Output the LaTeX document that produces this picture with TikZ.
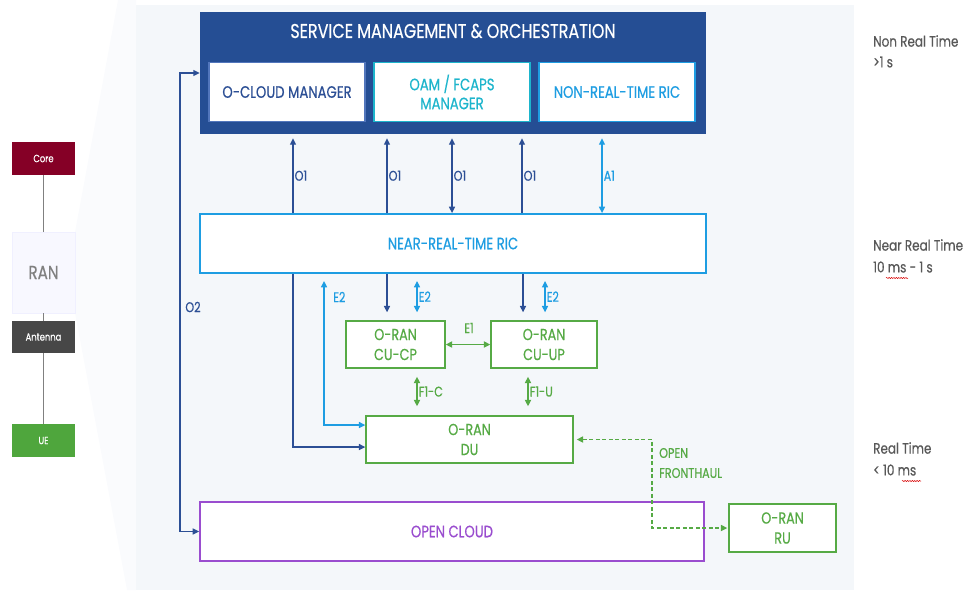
\documentclass[tikz,border=0pt]{standalone}
\usepackage{fontspec}
\setmainfont{Poppins}[FakeStretch=0.8,FakeBold=0.5]
\usetikzlibrary{arrows.meta,decorations.pathmorphing}

\definecolor{smoblue}{HTML}{254E94}
\definecolor{darkblue}{HTML}{2C4F95}
\definecolor{ocmblue}{HTML}{5276BC}
\definecolor{oamcyan}{HTML}{1DB5CC}
\definecolor{ricblue}{HTML}{1E9DE2}
\definecolor{orangreen}{HTML}{56AA45}
\definecolor{cloudpurple}{HTML}{9A4DCF}
\definecolor{panelbg}{HTML}{F4F7FA}
\definecolor{corered}{HTML}{850026}
\definecolor{antgray}{HTML}{474747}
\definecolor{uegreen}{HTML}{4FA63D}
\definecolor{timegray}{HTML}{585858}

\begin{document}
\begin{tikzpicture}[x=1pt,y=-1pt,
    >={Triangle[length=6.5pt,width=6pt]},
    inbox/.style={draw,line width=1.8pt,fill=white,inner sep=0pt,align=center,
        font=\fontsize{16.5}{19}\selectfont},
    ranbox/.style={draw=orangreen,line width=1.3pt,fill=white,text=orangreen,
        inner sep=0pt,align=center,font=\fontsize{16}{20}\selectfont},
    sidebox/.style={minimum width=63pt,inner sep=0pt,text=white,
        font=\fontsize{10.5}{12}\selectfont},
    lbl/.style={inner sep=1pt,font=\fontsize{14}{16}\selectfont},
    timelbl/.style={anchor=west,inner sep=0pt,text=timegray,
        font=\fontsize{15}{17}\selectfont},
    o1/.style={darkblue,line width=1.4pt},
    e2/.style={ricblue,line width=1.4pt},
    f1/.style={orangreen,line width=1.7pt},
    squiggle/.style={red!85!black,line width=0.5pt,decorate,
        decoration={snake,amplitude=0.6pt,segment length=2.4pt}}]
\useasboundingbox (0,0) rectangle (979,590);

% backdrop
\fill[panelbg!45!white]
    (75,232) -- (118,0) -- (136,0) -- (136,590) -- (127,590) -- (75,313) -- cycle;
\fill[panelbg] (136,5) rectangle (854,590);

% left column
\node[sidebox,fill=corered,minimum height=33pt] (core) at (43.5,158.5) {Core};
\node[sidebox,fill=panelbg!70!blue!8,draw=blue!6,text=gray,minimum height=81pt,
    font=\fontsize{19}{21}\selectfont] (ran) at (43.5,272.5) {RAN};
\node[sidebox,fill=antgray,minimum height=32pt] (ant) at (43.5,337) {Antenna};
\node[sidebox,fill=uegreen,minimum height=33pt] (ue) at (43.5,440.5) {UE};
\draw[gray,line width=1.2pt] (core) -- (ran);
\draw[gray,line width=1.2pt] (ran) -- (ant);
\draw[gray,line width=1.2pt] (ant) -- (ue);

% SMO
\node[fill=smoblue,minimum width=506pt,minimum height=122pt,inner sep=0pt] (smo) at (453,73) {};
\node[text=white,font=\fontsize{20}{22}\selectfont] (smotitle) at (453,31) {SERVICE MANAGEMENT \& ORCHESTRATION};
\node[inbox,draw=ocmblue,text=darkblue,minimum width=156pt,minimum height=59pt] (ocm) at (287,92) {O-CLOUD MANAGER};
\node[inbox,draw=oamcyan,text=oamcyan,minimum width=156pt,minimum height=59pt] (oam) at (452,92) {OAM / FCAPS\\MANAGER};
\node[inbox,draw=ricblue,text=ricblue,minimum width=156pt,minimum height=59pt] (nrt) at (617,92) {NON-REAL-TIME RIC};

% near-RT RIC
\node[inbox,draw=ricblue,text=ricblue,minimum width=506pt,minimum height=59pt] (ric) at (453,243.5) {NEAR-REAL-TIME RIC};

% RAN nodes
\node[ranbox,minimum width=99pt,minimum height=47pt] (cucp) at (395.5,344.5) {O-RAN\\CU-CP};
\node[ranbox,minimum width=106pt,minimum height=47pt] (cuup) at (544,344.5) {O-RAN\\CU-UP};
\node[ranbox,minimum width=207pt,minimum height=47pt] (du) at (469.5,439.5) {O-RAN\\DU};
\node[ranbox,minimum width=107pt,minimum height=48pt] (ru) at (782.5,528) {O-RAN\\RU};
\node[inbox,draw=cloudpurple,text=cloudpurple,line width=1.6pt,minimum width=504pt,minimum height=59pt] (cloud) at (452,531.5) {OPEN CLOUD};

% O1 / A1
\draw[o1,->] (ric.north -| 293,0) -- node[lbl,right,text=darkblue] (o1a) {O1} ([yshift=-4pt]smo.south -| 293,0);
\draw[o1,->] (ric.north -| 387,0) -- node[lbl,right,text=darkblue] (o1b) {O1} ([yshift=-4pt]smo.south -| 387,0);
\draw[o1,<->] (ric.north -| 452,0) -- node[lbl,right,text=darkblue] (o1c) {O1} ([yshift=-4pt]smo.south -| 452,0);
\draw[o1,->] (ric.north -| 522,0) -- node[lbl,right,text=darkblue] (o1d) {O1} ([yshift=-4pt]smo.south -| 522,0);
\draw[e2,<->] (ric.north -| 602,0) -- node[lbl,right,text=ricblue] (a1) {A1} ([yshift=-4pt]smo.south -| 602,0);

% O2
\coordinate (o2x) at (180,300);
\draw[o1,<->] (smo.west) -| (o2x) |- (cloud.west);
\node[lbl,text=darkblue] (o2) at (193,307) {O2};

% E2 and down links
\draw[o1,->] (ric.south -| 293,0) |- ([yshift=-7.5pt]du.west);
\draw[e2,<->] ([yshift=14.5pt]du.west) -| ([yshift=-7pt]ric.south -| 324,0);
\node[lbl,anchor=west,text=ricblue] (e2a) at (332,297) {E2};
\draw[o1,->] (ric.south -| 387,0) -- ([yshift=8pt]cucp.north -| 387,0);
\draw[e2,<->] ([yshift=-7pt]ric.south -| 417,0) -- node[lbl,right,text=ricblue] (e2b) {E2} ([yshift=8pt]cucp.north -| 417,0);
\draw[o1,->] (ric.south -| 523,0) -- ([yshift=8pt]cuup.north -| 523,0);
\draw[e2,<->] ([yshift=-7pt]ric.south -| 545,0) -- node[lbl,right,text=ricblue] (e2c) {E2} ([yshift=8pt]cuup.north -| 545,0);

% E1 / F1
\draw[f1,<->] (cucp.east) -- (cuup.west);
\node[lbl,text=orangreen] (e1) at (469,328) {E1};
\draw[f1,<->] ([yshift=-8pt]cucp.south -| 417,0) -- node[lbl,right,text=orangreen] (f1c) {F1-C} ([yshift=9pt]du.north -| 417,0);
\draw[f1,<->] ([yshift=-8pt]cuup.south -| 528,0) -- node[lbl,right,text=orangreen] (f1u) {F1-U} ([yshift=9pt]du.north -| 528,0);

% fronthaul
\coordinate (fhx) at (652,480);
\draw[f1,line width=1.6pt,dash pattern=on 4pt off 2.5pt,<->] ([xshift=3pt]du.east) -| (fhx) |- ([xshift=-1pt]ru.west);
\node[lbl,anchor=west,text=orangreen] (fh1) at (658,453) {OPEN};
\node[lbl,anchor=west,text=orangreen] (fh2) at (658,473) {FRONTHAUL};

% time scale
\node[timelbl] (nrt1) at (873,41) {Non Real Time};
\node[timelbl] (nrt2) at (873,62) {>1 s};
\node[timelbl] (near1) at (873,245) {Near Real Time};
\node[timelbl] (near2) at (873,267) {10 ms - 1 s};
\node[timelbl] (rt1) at (873,448) {Real Time};
\node[timelbl] (rt2) at (873,470) {< 10 ms};
\draw[squiggle] (886,278) -- (908,278);
\draw[squiggle] (902,481) -- (921,481);
\end{tikzpicture}
\end{document}
